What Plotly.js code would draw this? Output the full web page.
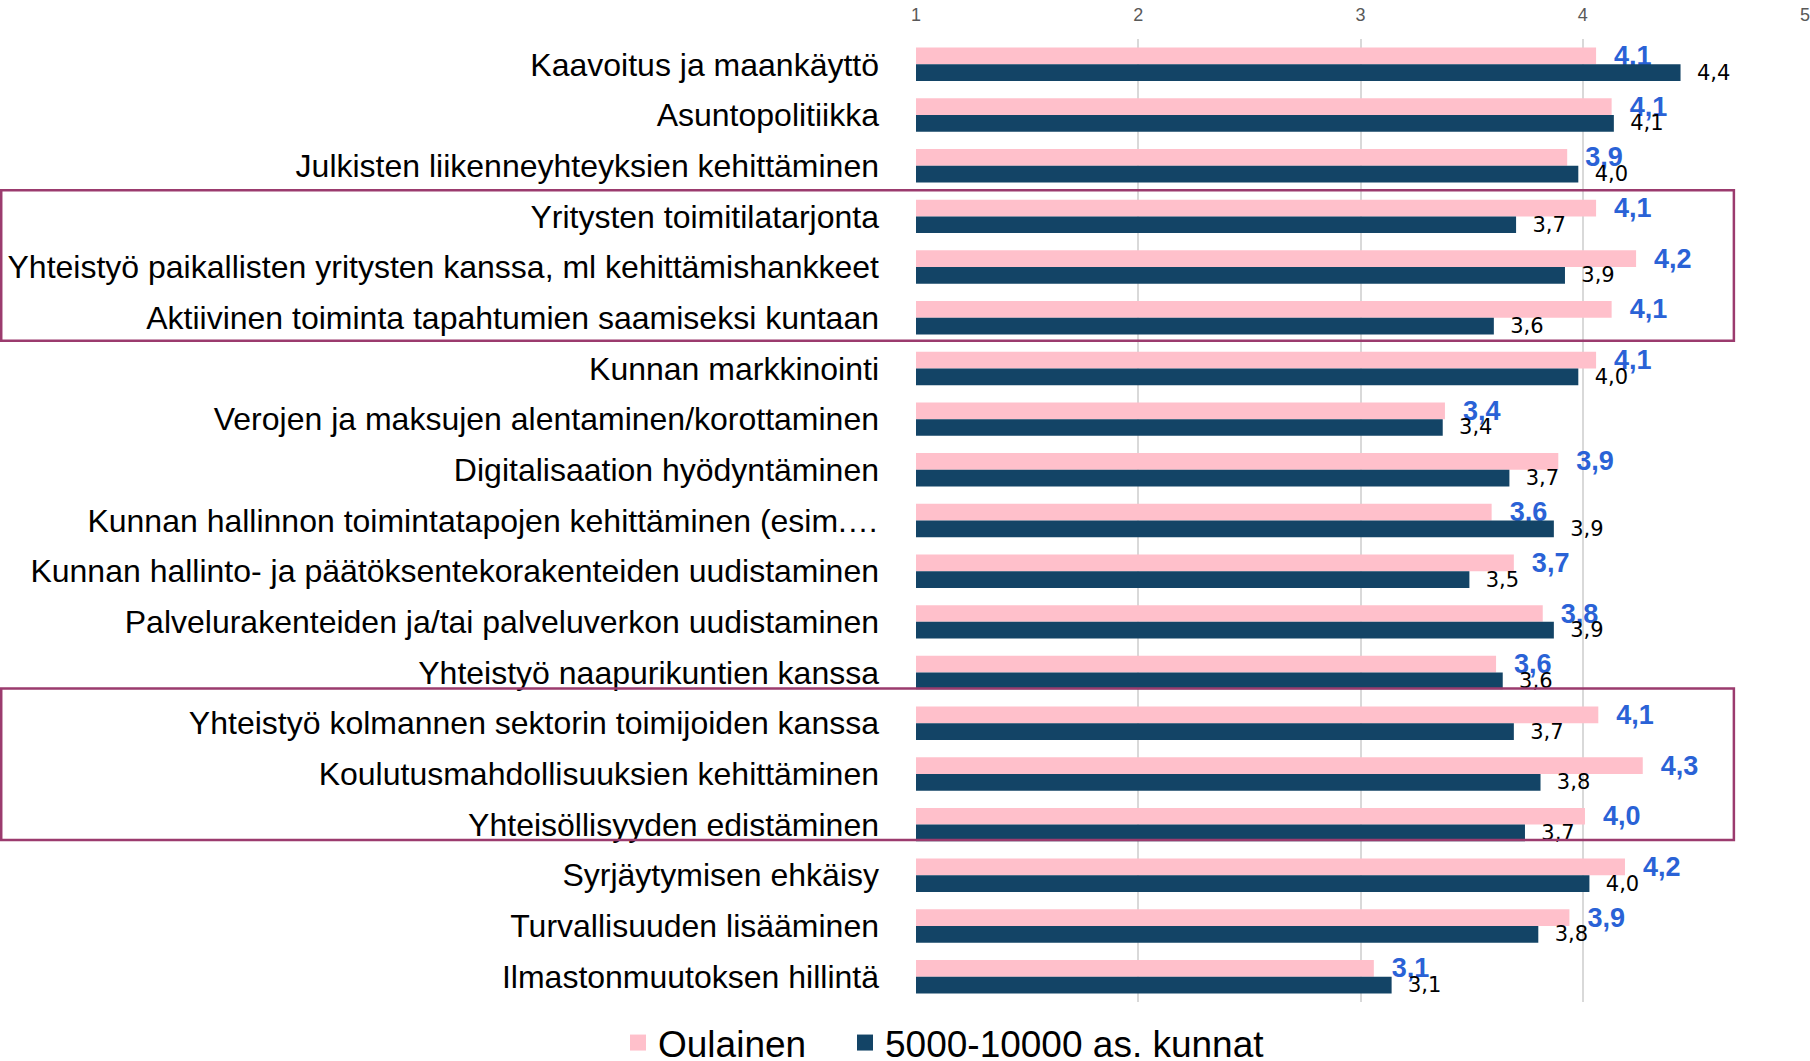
<!DOCTYPE html>
<html>
<head>
<meta charset="utf-8">
<script src="https://cdn.plot.ly/plotly-3.0.1.min.js"></script>
<style>html,body{margin:0;padding:0;background:#fff;}#chart{width:1810px;height:1061px;}</style>
</head>
<body>
<div id="chart"></div>
<script>
const categories = [
  "Kaavoitus ja maankäyttö",
  "Asuntopolitiikka",
  "Julkisten liikenneyhteyksien kehittäminen",
  "Yritysten toimitilatarjonta",
  "Yhteistyö paikallisten yritysten kanssa, ml kehittämishankkeet",
  "Aktiivinen toiminta tapahtumien saamiseksi kuntaan",
  "Kunnan markkinointi",
  "Verojen ja maksujen alentaminen/korottaminen",
  "Digitalisaation hyödyntäminen",
  "Kunnan hallinnon toimintatapojen kehittäminen (esim.…",
  "Kunnan hallinto- ja päätöksentekorakenteiden uudistaminen",
  "Palvelurakenteiden ja/tai palveluverkon uudistaminen",
  "Yhteistyö naapurikuntien kanssa",
  "Yhteistyö kolmannen sektorin toimijoiden kanssa",
  "Koulutusmahdollisuuksien kehittäminen",
  "Yhteisöllisyyden edistäminen",
  "Syrjäytymisen ehkäisy",
  "Turvallisuuden lisääminen",
  "Ilmastonmuutoksen hillintä"
];
const oulainen = [4.06, 4.13, 3.93, 4.06, 4.24, 4.13, 4.06, 3.38, 3.89, 3.59, 3.69, 3.82, 3.61, 4.07, 4.27, 4.01, 4.19, 3.94, 3.06];
const kunnat   = [4.44, 4.14, 3.98, 3.70, 3.92, 3.60, 3.98, 3.37, 3.67, 3.87, 3.49, 3.87, 3.64, 3.69, 3.81, 3.74, 4.03, 3.80, 3.14];
const seriesNames = ["Oulainen", "5000-10000 as. kunnat"];
const xTicks = [1, 2, 3, 4, 5];

const pink = "#ffc0cb", navy = "#134466", blue = "#2a62d6";
const NB = "\u00a0\u00a0";

const traces = [
  {
    type: "bar", orientation: "h", name: seriesNames[0], showlegend: false,
    y: categories, x: oulainen, base: 0,
    marker: {color: pink},
    texttemplate: NB + "%{x:.1f}", textposition: "outside", cliponaxis: false, constraintext: "none",
    textfont: {family: "Liberation Sans, Arial, sans-serif", size: 27, color: blue, weight: "bold"},
    outsidetextfont: {family: "Liberation Sans, Arial, sans-serif", size: 27, color: blue, weight: "bold"},
    hoverinfo: "x+y"
  },
  {
    type: "bar", orientation: "h", name: seriesNames[1], showlegend: false,
    y: categories, x: kunnat, base: 0,
    marker: {color: navy},
    texttemplate: NB + "%{x:.1f}", textposition: "outside", cliponaxis: false, constraintext: "none",
    textfont: {family: "DejaVu Sans, sans-serif", size: 21, color: "#000000"},
    outsidetextfont: {family: "DejaVu Sans, sans-serif", size: 21, color: "#000000"},
    hoverinfo: "x+y"
  },
  {type: "scatter", mode: "markers", name: seriesNames[0], x: [null], y: [null], legend: "legend",
   marker: {symbol: "square", size: 18, color: pink}, hoverinfo: "skip"},
  {type: "scatter", mode: "markers", name: seriesNames[1], x: [null], y: [null], legend: "legend2",
   marker: {symbol: "square", size: 18, color: navy}, hoverinfo: "skip"}
];

const legendFont = {family: "Liberation Sans, Arial, sans-serif", size: 37, color: "#000000"};
const legendBase = {
  orientation: "h", xref: "container", yref: "container",
  xanchor: "left", y: 1 - 1043 / 1061, yanchor: "middle",
  font: legendFont, itemsizing: "trace", bgcolor: "rgba(0,0,0,0)", borderwidth: 0
};

const boxStyle = {color: "#9b3b6e", width: 2.5};
const layout = {
  width: 1810, height: 1061,
  paper_bgcolor: "#ffffff", plot_bgcolor: "#ffffff",
  margin: {l: 916, r: 5, t: 39, b: 59, pad: 0},
  separators: ", ",
  font: {family: "Liberation Sans, Arial, sans-serif", color: "#000000"},
  barmode: "group", bargap: 0.34, bargroupgap: 0,
  xaxis: {
    range: [1, 5], side: "top", tickvals: xTicks, ticktext: xTicks.map(String),
    showgrid: true, gridcolor: "#d9d9d9", gridwidth: 2, zeroline: false, showline: false,
    ticks: "", ticklabelstandoff: 13, ticklabeloverflow: "allow",
    tickfont: {family: "Liberation Sans, Arial, sans-serif", size: 18, color: "#595959"},
    fixedrange: true
  },
  yaxis: {
    type: "category", autorange: "reversed", showgrid: false, zeroline: false, showline: false,
    ticks: "", ticklabelstandoff: 36,
    tickfont: {family: "Liberation Sans, Arial, sans-serif", size: 32, color: "#000000"},
    fixedrange: true
  },
  legend: Object.assign({}, legendBase, {x: 618 / 1810}),
  legend2: Object.assign({}, legendBase, {x: 845 / 1810}),
  shapes: [
    {type: "rect", xref: "paper", yref: "y", x0: -1.029, x1: 0.92, y0: 2.485, y1: 5.454, line: boxStyle, layer: "above"},
    {type: "rect", xref: "paper", yref: "y", x0: -1.029, x1: 0.92, y0: 12.317, y1: 15.306, line: boxStyle, layer: "above"}
  ],
  showlegend: true
};

Plotly.newPlot("chart", traces, layout, {displayModeBar: false, responsive: false});
</script>
</body>
</html>
